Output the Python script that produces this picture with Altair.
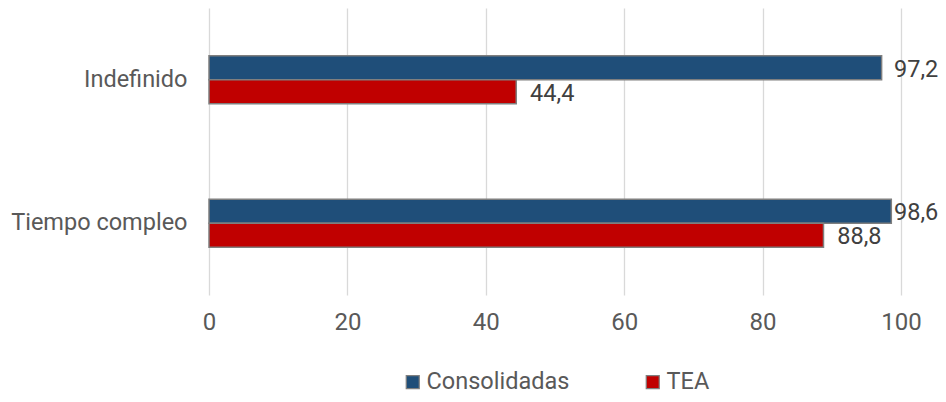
import altair as alt
import pandas as pd

categories = ["Indefinido", "Tiempo compleo"]
series = ["Consolidadas", "TEA"]
consolidadas = [97.2, 98.6]
tea = [44.4, 88.8]
colors = ["#1F4E79", "#C00000"]

rows = []
for c, v in zip(categories, consolidadas):
    rows.append({"cat": c, "serie": "Consolidadas", "v": v})
for c, v in zip(categories, tea):
    rows.append({"cat": c, "serie": "TEA", "v": v})
df = pd.DataFrame(rows)

TEXT = "#595959"
FONT = "Roboto"
FW = 400

y = alt.Y("cat:N", sort=categories, title=None,
          scale=alt.Scale(paddingInner=0.6655, paddingOuter=0.33275),
          axis=alt.Axis(domain=False, ticks=False, labelFontSize=23.5, labelColor=TEXT,
                        labelFont=FONT, labelFontWeight=FW, labelPadding=22, grid=False,
                        labelLimit=400))
yoff = alt.YOffset("serie:N", sort=series,
                   scale=alt.Scale(paddingOuter=0, paddingInner=0))
x = alt.X("v:Q", title=None,
          scale=alt.Scale(domain=[0, 100], nice=False, zero=True),
          axis=alt.Axis(values=[0, 20, 40, 60, 80, 100], domain=False, ticks=False,
                        labelFontSize=24, labelColor=TEXT, labelFont=FONT, labelFontWeight=FW,
                        labelFlush=False, labelPadding=15,
                        gridColor="#D9D9D9", gridWidth=1.3))

bars = alt.Chart(df).mark_bar(stroke="#7F7F7F", strokeWidth=1.5).encode(
    x=x, y=y, yOffset=yoff,
    color=alt.Color("serie:N", sort=series,
                    scale=alt.Scale(domain=series, range=colors),
                    legend=alt.Legend(title=None, orient="none", direction="horizontal",
                                      legendX=192, legendY=362, padding=0,
                                      symbolType="square", symbolSize=169,
                                      symbolStrokeColor="#7F7F7F", symbolStrokeWidth=1.2,
                                      symbolOpacity=1,
                                      labelFontSize=23.5, labelColor=TEXT, labelFont=FONT,
                                      labelFontWeight=FW,
                                      labelOffset=2, columnPadding=71)),
)

labels = alt.Chart(df).transform_calculate(
    lab="replace(format(datum.v, '.1f'), '.', ',')",
    labx="min(datum.v + 2.0, 99.0)",
).mark_text(align="left", baseline="middle", dy=2, fontSize=23.5,
            color="#404040", font=FONT, fontWeight=FW).encode(
    x=alt.X("labx:Q"), y=alt.Y("cat:N", sort=categories), yOffset=alt.YOffset("serie:N", sort=series),
    text="lab:N",
)

chart = (bars + labels).properties(
    width=692, height=287,
    autosize=alt.AutoSizeParams(type="none"),
    padding={"left": 201, "top": 0, "right": 37, "bottom": 99},
    background="white",
).configure_view(stroke=None)

chart.save("out.html", embed_options={"renderer": "svg", "actions": False})
